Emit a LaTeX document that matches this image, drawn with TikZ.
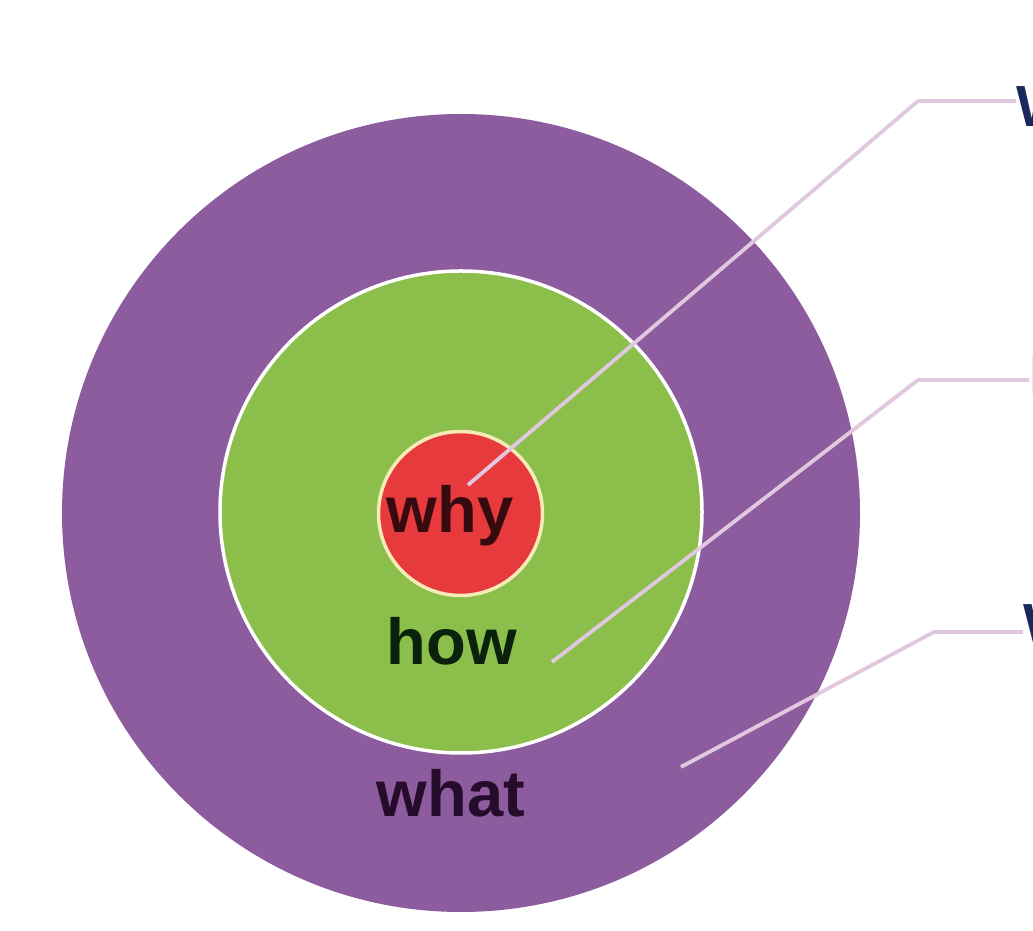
\documentclass[tikz,border=0pt]{standalone}
\usepackage{fontspec}
\setmainfont{Liberation Sans}
\definecolor{whatfill}{RGB}{140,92,159}
\definecolor{howfill}{RGB}{139,190,74}
\definecolor{whyfill}{RGB}{231,58,60}
\definecolor{whyrim}{RGB}{246,234,182}
\definecolor{leadcol}{RGB}{224,200,222}
\definecolor{whyink}{RGB}{55,10,16}
\definecolor{howink}{RGB}{10,34,12}
\definecolor{whatink}{RGB}{36,12,42}
\definecolor{tagink}{RGB}{26,40,92}
\definecolor{tagblue}{RGB}{48,88,165}
\tikzset{
	ring/.style={font=\bfseries\fontsize{18.5}{22}\selectfont, inner sep=0pt, anchor=base},
	tag/.style={font=\bfseries\fontsize{16.5}{20}\selectfont, inner sep=0pt, anchor=base west, text=tagink},
	lead/.style={leadcol, line width=0.38mm, line join=round}
}
\begin{document}
	\begin{tikzpicture}[x=0.01cm,y=-0.01cm]
		\useasboundingbox (0,0) rectangle (1033,931);
		\clip (0,0) rectangle (1033,931);

		\fill[whatfill] (461,513) circle (399);
		\fill[howfill, draw=white, line width=0.35mm] (461,512) circle (241);
		\fill[whyfill, draw=whyrim, line width=0.35mm] (460.5,513.5) circle (82);

		\node[ring, text=whyink] (why) at (450,533) {why};
		\node[ring, text=howink] (how) at (452,665) {how};
		\node[ring, text=whatink] (what) at (451,817) {what};

		\node[tag] (whytag) at (1016,127) {Why};
		\node[tag, text=tagblue] (howtag) at (1029,395) {How};
		\node[tag] (whattag) at (1023,645) {What};

		\coordinate (s1) at (468,485);
		\coordinate (k1) at (918,101);
		\coordinate (s2) at (552,662);
		\coordinate (k2) at (918,380);
		\coordinate (s3) at (681,767);
		\coordinate (k3) at (934,632);

		\draw[lead] (s1) -- (k1) -- (k1 -| whytag.west);
		\draw[lead] (s2) -- (k2) -- (k2 -| howtag.west);
		\draw[lead] (s3) -- (k3) -- (k3 -| whattag.west);
	\end{tikzpicture}
\end{document}
